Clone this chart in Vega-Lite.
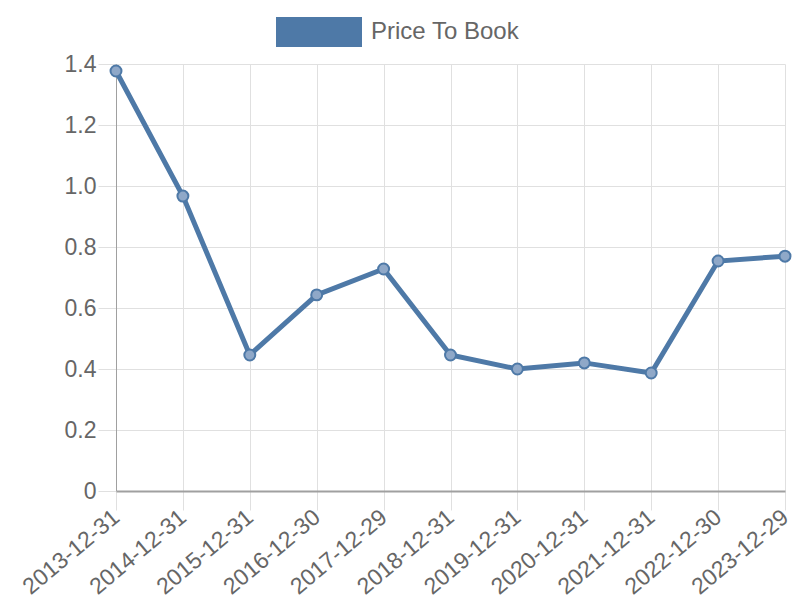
{
  "$schema": "https://vega.github.io/schema/vega-lite/v6.json",
  "width": 669,
  "height": 427,
  "autosize": "none",
  "padding": {"left": 116, "top": 64, "right": 15, "bottom": 109},
  "background": "white",
  "config": {
    "view": {"stroke": null},
    "font": "Liberation Sans"
  },
  "data": {
    "values": [
      {"date": "2013-12-31", "value": 1.377},
      {"date": "2014-12-31", "value": 0.967},
      {"date": "2015-12-31", "value": 0.446},
      {"date": "2016-12-30", "value": 0.643},
      {"date": "2017-12-29", "value": 0.728},
      {"date": "2018-12-31", "value": 0.446},
      {"date": "2019-12-31", "value": 0.400},
      {"date": "2020-12-31", "value": 0.420},
      {"date": "2021-12-31", "value": 0.387},
      {"date": "2022-12-30", "value": 0.754},
      {"date": "2023-12-29", "value": 0.770}
    ]
  },
  "encoding": {
    "x": {
      "field": "date",
      "type": "ordinal",
      "scale": {"type": "point", "padding": 0},
      "axis": {
        "title": null,
        "labelAngle": -40,
        "labelAlign": "right",
        "labelBaseline": "middle",
        "labelFontSize": 23,
        "labelColor": "#666666",
        "labelPadding": 4,
        "domainColor": "#a0a0a0",
        "domainWidth": 2,
        "tickColor": "#e0e0e0",
        "tickSize": 19,
        "grid": true,
        "gridColor": "#e0e0e0",
        "gridWidth": 1
      }
    },
    "y": {
      "field": "value",
      "type": "quantitative",
      "scale": {"domain": [0, 1.4], "nice": false},
      "axis": {
        "title": null,
        "values": [0, 0.2, 0.4, 0.6, 0.8, 1.0, 1.2, 1.4],
        "labelExpr": "datum.value == 0 ? '0' : format(datum.value, '.1f')",
        "labelFontSize": 23,
        "labelColor": "#666666",
        "labelPadding": 2,
        "domainColor": "#a0a0a0",
        "domainWidth": 1,
        "tickColor": "#e0e0e0",
        "tickSize": 18,
        "grid": true,
        "gridColor": "#e0e0e0",
        "gridWidth": 1
      }
    },
    "color": {
      "datum": "Price To Book",
      "type": "nominal",
      "scale": {"range": ["#4e79a7"]},
      "legend": {
        "title": null,
        "orient": "none",
        "legendX": 160,
        "legendY": -75,
        "symbolType": "M-1,-0.35H1V0.35H-1Z",
        "symbolSize": 7396,
        "symbolFillColor": "#4e79a7",
        "symbolStrokeWidth": 0,
        "labelFontSize": 24,
        "labelColor": "#666666",
        "labelOffset": 9
      }
    }
  },
  "layer": [
    {
      "mark": {"type": "line", "strokeWidth": 5}
    },
    {
      "mark": {"type": "point", "filled": true, "size": 120, "fill": "#8fa8c8", "stroke": "#4e79a7", "strokeWidth": 2, "opacity": 1}
    }
  ]
}
